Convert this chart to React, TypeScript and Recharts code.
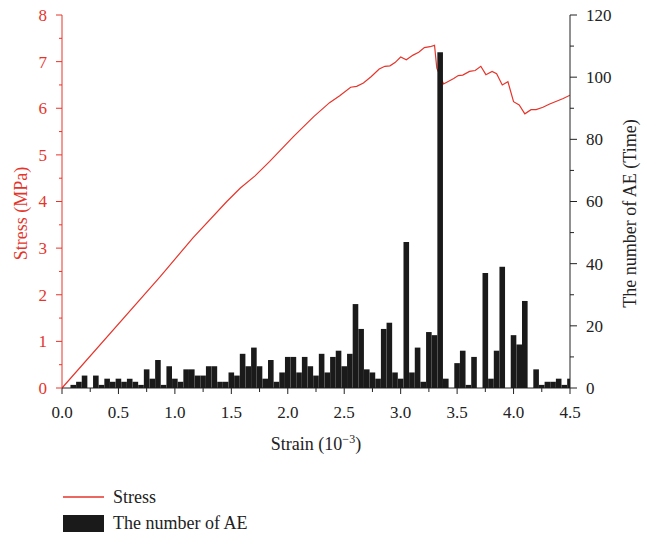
import React from 'react';
import { ComposedChart, Bar, Line, XAxis, YAxis, Legend } from 'recharts';

// AE counts, one bar every 0.05 strain (10^-3), from 0.00 to 4.50
const aeStrain: number[] = [
  0.0, 0.05, 0.1, 0.15, 0.2, 0.25, 0.3, 0.35, 0.4, 0.45,
  0.5, 0.55, 0.6, 0.65, 0.7, 0.75, 0.8, 0.85, 0.9, 0.95,
  1.0, 1.05, 1.1, 1.15, 1.2, 1.25, 1.3, 1.35, 1.4, 1.45,
  1.5, 1.55, 1.6, 1.65, 1.7, 1.75, 1.8, 1.85, 1.9, 1.95,
  2.0, 2.05, 2.1, 2.15, 2.2, 2.25, 2.3, 2.35, 2.4, 2.45,
  2.5, 2.55, 2.6, 2.65, 2.7, 2.75, 2.8, 2.85, 2.9, 2.95,
  3.0, 3.05, 3.1, 3.15, 3.2, 3.25, 3.3, 3.35, 3.4, 3.45,
  3.5, 3.55, 3.6, 3.65, 3.7, 3.75, 3.8, 3.85, 3.9, 3.95,
  4.0, 4.05, 4.1, 4.15, 4.2, 4.25, 4.3, 4.35, 4.4, 4.45,
  4.5,
];
const aeCount: number[] = [
  0, 0, 1, 2, 4, 0, 4, 1, 3, 2,
  3, 2, 3, 2, 1, 6, 3, 9, 1, 7,
  3, 2, 6, 6, 4, 4, 7, 7, 2, 2,
  5, 4, 11, 7, 13, 7, 3, 9, 2, 5,
  10, 10, 5, 10, 7, 4, 11, 5, 10, 12,
  7, 11, 27, 19, 6, 5, 3, 19, 21, 5,
  3, 47, 5, 13, 2, 18, 17, 108, 3, 0,
  8, 12, 1, 10, 0, 37, 3, 12, 39, 0,
  17, 14, 28, 0, 6, 1, 2, 2, 3, 1,
  3,
];

// Stress curve
const stressStrain: number[] = [
  0, 0.87, 1.16, 1.46, 1.58, 1.71, 1.84, 2.05, 2.23, 2.37,
  2.46, 2.557, 2.61, 2.67, 2.74, 2.81, 2.86, 2.905, 2.95, 3.0,
  3.05, 3.11, 3.16, 3.21, 3.26, 3.3, 3.32, 3.38, 3.47, 3.51,
  3.55, 3.61, 3.66, 3.71, 3.755, 3.81, 3.85, 3.9, 3.95, 4.0,
  4.05, 4.1, 4.155, 4.2, 4.26, 4.32, 4.38, 4.44, 4.5,
];
const stressValue: number[] = [
  0, 2.39, 3.22, 4.0, 4.29, 4.55, 4.86, 5.39, 5.82, 6.12,
  6.27, 6.45, 6.47, 6.54, 6.68, 6.84, 6.9, 6.91, 6.98, 7.1,
  7.04, 7.14, 7.2, 7.3, 7.32, 7.35, 6.86, 6.52, 6.64, 6.7,
  6.71, 6.79, 6.81, 6.9, 6.72, 6.79, 6.74, 6.5, 6.57, 6.14,
  6.07, 5.88, 5.97, 5.97, 6.02, 6.09, 6.15, 6.21, 6.28,
];

const xTicks: number[] = [0, 0.25, 0.5, 0.75, 1, 1.25, 1.5, 1.75, 2, 2.25, 2.5, 2.75, 3, 3.25, 3.5, 3.75, 4, 4.25, 4.5];
const stressTicks: number[] = [0, 0.5, 1, 1.5, 2, 2.5, 3, 3.5, 4, 4.5, 5, 5.5, 6, 6.5, 7, 7.5, 8];
const aeTicks: number[] = [0, 10, 20, 30, 40, 50, 60, 70, 80, 90, 100, 110, 120];

const aeData = aeStrain.map((s, i) => ({ strain: s, ae: aeCount[i] }));
const stressData = stressStrain.map((s, i) => ({ strain: s, stress: stressValue[i] }));

const RED = '#e5352b';
const DARK = '#1a1a1a';
const FONT = '"Liberation Serif", "Times New Roman", serif';

const XTick = (props: any) => {
  const { x, y, payload } = props;
  const v = payload.value as number;
  const major = Math.abs(v * 2 - Math.round(v * 2)) < 1e-6;
  return (
    <g>
      <line x1={x} x2={x} y1={y} y2={y + (major ? 6 : 4)} stroke="#222" strokeWidth={1} />
      {major && (
        <text x={x} y={y + 30} textAnchor="middle" fontFamily={FONT} fontSize={17} fill="#222">
          {v.toFixed(1)}
        </text>
      )}
    </g>
  );
};

const LeftTick = (props: any) => {
  const { x, y, payload } = props;
  const v = payload.value as number;
  const major = Math.abs(v - Math.round(v)) < 1e-6;
  return (
    <g>
      <line x1={x} x2={x - (major ? 6 : 3)} y1={y} y2={y} stroke={RED} strokeWidth={1} />
      {major && (
        <text x={x - 15} y={y} dy="0.35em" textAnchor="end" fontFamily={FONT} fontSize={17} fill={RED}>
          {v}
        </text>
      )}
    </g>
  );
};

const RightTick = (props: any) => {
  const { x, y, payload } = props;
  const v = payload.value as number;
  const major = v % 20 === 0;
  return (
    <g>
      <line x1={x} x2={x + (major ? 7 : 4)} y1={y} y2={y} stroke="#222" strokeWidth={1} />
      {major && (
        <text x={x + 16} y={y} dy="0.35em" textAnchor="start" fontFamily={FONT} fontSize={17} fill="#222">
          {v}
        </text>
      )}
    </g>
  );
};

const XTitle = (props: any) => {
  const vb = props.viewBox || {};
  const cx = vb.x + vb.width / 2;
  const y = vb.y + 62;
  return (
    <text x={cx} y={y} textAnchor="middle" fontFamily={FONT} fontSize={18} fill="#222">
      <tspan>Strain (10</tspan>
      <tspan dy={-7} fontSize={12}>−3</tspan>
      <tspan dy={7}>)</tspan>
    </text>
  );
};

const LeftTitle = (props: any) => {
  const vb = props.viewBox || {};
  const cx = vb.x + 21;
  const cy = vb.y + vb.height / 2 + 12;
  return (
    <text x={cx} y={cy} transform={`rotate(-90, ${cx}, ${cy})`} textAnchor="middle" dominantBaseline="central"
      fontFamily={FONT} fontSize={18} fill={RED}>
      Stress (MPa)
    </text>
  );
};

const RightTitle = (props: any) => {
  const vb = props.viewBox || {};
  const cx = vb.x + 60;
  const cy = vb.y + vb.height / 2 + 12;
  return (
    <text x={cx} y={cy} transform={`rotate(-90, ${cx}, ${cy})`} textAnchor="middle" dominantBaseline="central"
      fontFamily={FONT} fontSize={18} fill="#222">
      The number of AE (Time)
    </text>
  );
};

const LegendContent = () => (
  <div style={{ fontFamily: FONT, fontSize: 18, color: '#222', lineHeight: '18px' }}>
    <div style={{ display: 'flex', alignItems: 'center', height: 18 }}>
      <svg width={42} height={18} style={{ display: 'block' }}>
        <line x1={0} x2={41} y1={9} y2={9} stroke={RED} strokeWidth={1.3} />
      </svg>
      <span style={{ marginLeft: 8 }}>Stress</span>
    </div>
    <div style={{ display: 'flex', alignItems: 'center', height: 18, marginTop: 8 }}>
      <svg width={42} height={17} style={{ display: 'block' }}>
        <rect x={0} y={0} width={41} height={17} fill={DARK} />
      </svg>
      <span style={{ marginLeft: 8 }}>The number of AE</span>
    </div>
  </div>
);

export default function App() {
  return (
    <div style={{ position: 'absolute', left: 0, top: 0, width: 650, height: 536, background: '#fff' }}>
      <ComposedChart width={650} height={536} data={aeData} margin={{ top: 15, right: 0, left: 0, bottom: 88 }}>
        <XAxis
          xAxisId="x"
          type="number"
          dataKey="strain"
          domain={[0, 4.5]}
          ticks={xTicks}
          interval={0}
          tickSize={0}
          tickMargin={0}
          tickLine={false}
          tick={<XTick />}
          stroke="#222"
          height={60}
          label={<XTitle />}
          allowDataOverflow
        />
        <XAxis xAxisId="xb" type="number" dataKey="strain" domain={[0, 4.5]} hide allowDataOverflow />
        <YAxis
          yAxisId="stress"
          orientation="left"
          domain={[0, 8]}
          ticks={stressTicks}
          interval={0}
          tickSize={0}
          tickMargin={0}
          tickLine={false}
          tick={<LeftTick />}
          stroke={RED}
          width={62}
          label={<LeftTitle />}
        />
        <YAxis
          yAxisId="ae"
          orientation="right"
          domain={[0, 120]}
          ticks={aeTicks}
          interval={0}
          tickSize={0}
          tickMargin={0}
          tickLine={false}
          tick={<RightTick />}
          stroke="#222"
          width={80}
          label={<RightTitle />}
        />
        <Line
          xAxisId="x"
          yAxisId="stress"
          data={stressData}
          dataKey="stress"
          type="linear"
          stroke={RED}
          strokeWidth={1.2}
          dot={false}
          activeDot={false}
          isAnimationActive={false}
          zIndex={400}
        />
        <Bar
          xAxisId="xb"
          yAxisId="ae"
          dataKey="ae"
          fill={DARK}
          barSize={5.6}
          isAnimationActive={false}
          zIndex={500}
        />
        <Legend
          layout="vertical"
          align="center"
          verticalAlign="middle"
          wrapperStyle={{ left: 63, top: 488, width: 300, height: 50 }}
          content={<LegendContent />}
        />
      </ComposedChart>
    </div>
  );
}
